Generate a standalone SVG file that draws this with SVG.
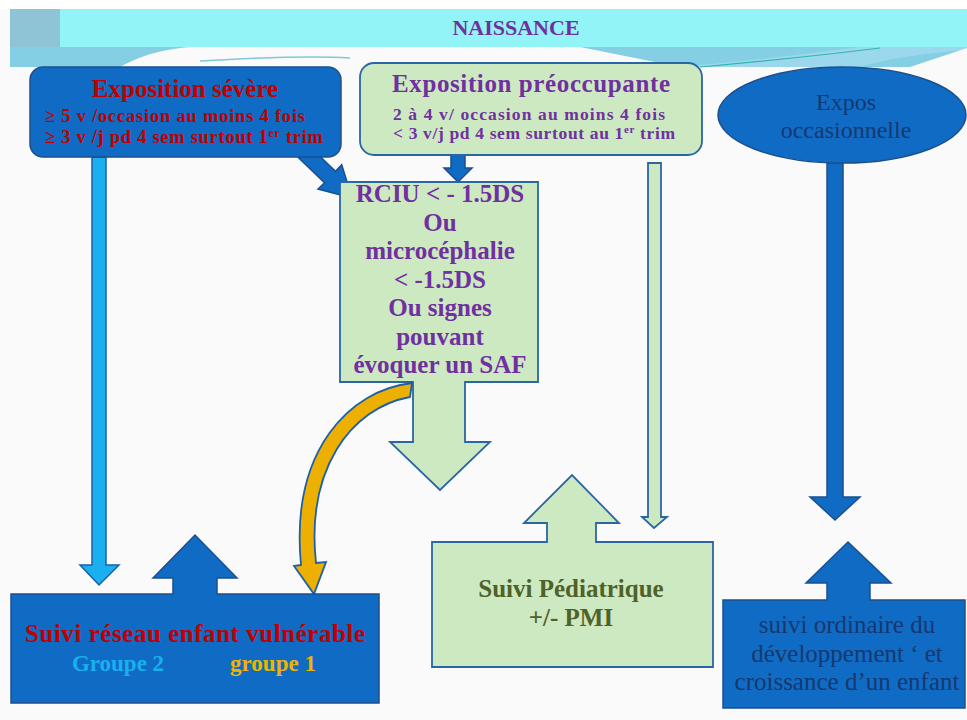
<svg xmlns="http://www.w3.org/2000/svg" width="967" height="720" viewBox="0 0 967 720">
<style>
.t{font-family:"Liberation Serif","DejaVu Serif",serif;text-anchor:middle}
.s{font-family:"Liberation Serif","DejaVu Serif",serif;font-weight:bold}
.b{font-weight:bold}
.dk{fill:#0f6bc4;stroke:#1d4f8c;stroke-width:1.5}
.lg{fill:#cde9c2;stroke:#2a66a4;stroke-width:1.8}
.pur{fill:#7030a0}
.red{fill:#c00000}
.navy{fill:#17386e}
</style>
<rect width="967" height="720" fill="#fafafa"/>
<rect width="967" height="9" fill="#ffffff"/>
<!-- header band -->
<rect x="10" y="47" width="957" height="20" fill="#84cfe3"/>
<path d="M120 67 Q150 50 190 47 L580 47 Q620 55 680 67 Z" fill="#fafafa"/>
<path d="M200 61 Q300 55 350 58" fill="none" stroke="#7fc8d8" stroke-width="1.5"/>
<path d="M680 67 Q760 60 860 47 L967 47 L967 50 Q900 55 860 67 Z" fill="#9bd8ee"/>
<path d="M700 67 Q800 58 880 48" fill="none" stroke="#2fb8a8" stroke-width="1.2"/>
<path d="M910 67 L967 48 L967 67 Z" fill="#fafafa"/>
<rect x="10" y="9" width="50" height="38" fill="#8fc3d6"/>
<rect x="60" y="9" width="907" height="38" fill="#93f4f8"/>
<text class="t b pur" x="516" y="35" font-size="22">NAISSANCE</text>

<g id="connectors">
  <!-- severe -> groupe 2 -->
  <path d="M92 157 L106 157 L106 565 L119 565 L99 585 L80 565 L92 565 Z" fill="#1ab0f0" stroke="#1d5fa8" stroke-width="1.5"/>
  <!-- severe -> RCIU -->
  <path d="M298.5 157.8 L309.5 146.2 L335.5 171.2 L341.7 164.8 L352 198 L318 189 L324.5 182.8 Z" class="dk"/>
  <!-- preoccupante -> RCIU -->
  <path d="M451 155 L465 155 L465 168 L472 168 L458 182 L444 168 L451 168 Z" class="dk"/>
  <!-- preoccupante -> suivi pediatrique -->
  <path d="M648 163 L661 163 L661 517 L667 517 L654 528 L642 517 L648 517 Z" class="lg" stroke-width="1.5"/>
  <!-- occasionnelle -> suivi ordinaire -->
  <path d="M827 163 L843 163 L843 497 L860 497 L835 520 L810 497 L827 497 Z" class="dk"/>
</g>

<g id="node-severe">
  <rect x="30" y="67" width="311" height="90" rx="13" class="dk"/>
  <text class="t b red" x="185" y="97" font-size="25">Exposition sévère</text>
  <text class="s red" x="45" y="122" font-size="18.5" textLength="260">≥ 5 v /occasion au  moins 4 fois</text>
  <text class="s red" x="45" y="143" font-size="18.5" textLength="278">≥ 3 v  /j pd 4 sem  surtout 1<tspan font-size="12" dy="-6">er</tspan><tspan dy="6"> trim</tspan></text>
</g>

<g id="node-preoccupante">
  <rect x="360" y="63" width="342" height="92" rx="14" class="lg"/>
  <text class="t b pur" x="531" y="92" font-size="25" textLength="278">Exposition préoccupante</text>
  <text class="s pur" x="393" y="120" font-size="17.5" textLength="272">2 à 4 v/ occasion au  moins 4 fois</text>
  <text class="s pur" x="393" y="139" font-size="17.5" textLength="282">&lt; 3 v/j pd 4 sem surtout au 1<tspan font-size="11" dy="-6">er</tspan><tspan dy="6"> trim</tspan></text>
</g>

<g id="node-occasionnelle">
  <ellipse cx="842" cy="115" rx="124" ry="48" class="dk"/>
  <text class="t navy" x="846" y="110" font-size="24">Expos</text>
  <text class="t navy" x="846" y="138" font-size="24">occasionnelle</text>
</g>

<g id="node-rciu">
  <path d="M340 182 L538 182 L538 382 L465 382 L465 442 L490 442 L440 490 L390 442 L413 442 L413 382 L340 382 Z" class="lg"/>
  <g class="t b pur" font-size="25">
    <text x="440" y="202">RCIU &lt; - 1.5DS</text>
    <text x="440" y="231">Ou</text>
    <text x="440" y="259">microcéphalie</text>
    <text x="440" y="288">&lt; -1.5DS</text>
    <text x="440" y="316">Ou signes</text>
    <text x="440" y="345">pouvant</text>
    <text x="440" y="373">évoquer un SAF</text>
  </g>
</g>

<g id="connector-groupe1">
  <path d="M412 383 C350 390 290 450 301 565 L294 566 L314 594 L326 562 L316 563 C306 470 350 408 410 397 Z" fill="#eeb000" stroke="#1d5fa8" stroke-width="1.8"/>
</g>

<g id="node-reseau">
  <path d="M11 594 L173 594 L173 578 L153 578 L195 535 L237 578 L217 578 L217 594 L379 594 L379 703 L11 703 Z" class="dk"/>
  <text class="t b red" x="195" y="642" font-size="25" textLength="340">Suivi réseau enfant vulnérable</text>
  <text class="t b" x="118" y="671" font-size="23" fill="#1ab0f0">Groupe 2</text>
  <text class="t b" x="273" y="671" font-size="23" fill="#f0b400">groupe 1</text>
</g>

<g id="node-pediatrique">
  <path d="M432 542 L547 542 L547 523 L524 523 L572 475 L619 523 L596 523 L596 542 L713 542 L713 667 L432 667 Z" class="lg"/>
  <text class="t b" x="571" y="597" font-size="25" fill="#4f6228">Suivi Pédiatrique</text>
  <text class="t b" x="571" y="626" font-size="25" fill="#4f6228">+/- PMI</text>
</g>

<g id="node-ordinaire">
  <path d="M723 600 L827 600 L827 583 L806 583 L848 542 L891 583 L870 583 L870 600 L965 600 L965 708 L723 708 Z" class="dk"/>
  <text class="t navy" x="847" y="633" font-size="25">suivi ordinaire du</text>
  <text class="t navy" x="847" y="662" font-size="25">développement  ‘ et</text>
  <text class="t navy" x="847" y="690" font-size="25">croissance d’un enfant</text>
</g>
</svg>
